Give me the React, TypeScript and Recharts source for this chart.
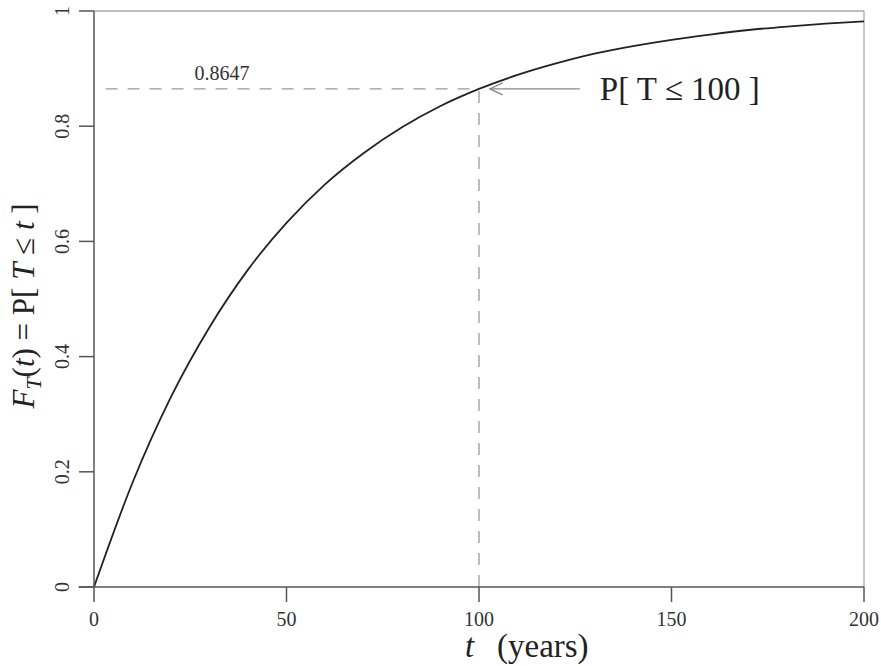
import React from 'react';
import { LineChart, Line, XAxis, YAxis, ReferenceLine, Label } from 'recharts';

const years = [0, 10, 20, 30, 40, 50, 60, 70, 80, 90, 100, 110, 120, 130, 140, 150, 160, 170, 180, 190, 200];
const probs = [0, 0.181, 0.33, 0.451, 0.551, 0.632, 0.699, 0.753, 0.798, 0.835, 0.8647, 0.889, 0.909, 0.926, 0.939, 0.95, 0.959, 0.967, 0.973, 0.978, 0.982];
const xTicks = [0, 50, 100, 150, 200];
const yTicks = [0, 0.2, 0.4, 0.6, 0.8, 1];
const markValue = 0.8647;
const markYear = 100;

const data = years.map((t, i) => ({ t, p: probs[i] }));

const FONT = '"Liberation Serif", "DejaVu Serif", serif';
const AXIS = '#555';

const YTick = (props: any) => {
  const { x, y, payload } = props;
  const lx = x - 8;
  return (
    <text x={lx} y={y} transform={`rotate(-90 ${lx} ${y})`} textAnchor="middle"
      fontFamily={FONT} fontSize={20} fill="#333">
      {payload.value === 0 || payload.value === 1 ? String(payload.value) : payload.value.toFixed(1)}
    </text>
  );
};

const XTick = (props: any) => {
  const { x, y, payload } = props;
  return (
    <text x={x} y={y + 22} textAnchor="middle" fontFamily={FONT} fontSize={20} fill="#333">
      {payload.value}
    </text>
  );
};

const Arrow = (props: any) => {
  const { x1, y1, x2, y2 } = props;
  return (
    <g>
      <line x1={x1} y1={y1} x2={x2} y2={y2} stroke="#888" strokeWidth={1.3} />
      <polyline points={`${x1 + 13},${y1 - 6} ${x1},${y1} ${x1 + 13},${y1 + 6}`} fill="none" stroke="#888" strokeWidth={1.3} />
      <text x={x2 + 20} y={y2 + 11} fontFamily={FONT} fontSize={33} fill="#222">P[ T ≤ 100 ]</text>
    </g>
  );
};

export default function App() {
  return (
    <div style={{ position: 'absolute', left: 0, top: 0, background: '#fff' }}>
      <LineChart width={881} height={666} data={data} margin={{ top: 11, right: 17, left: 34, bottom: 29 }}>
        <XAxis dataKey="t" type="number" domain={[0, 200]} ticks={xTicks} tick={<XTick />} height={50}
          axisLine={{ stroke: AXIS, strokeWidth: 1.5 }} tickLine={{ stroke: AXIS, strokeWidth: 1.5 }} tickSize={15}>
          <Label content={() => (
            <text y={657} fontFamily={FONT} fontSize={33} fill="#222">
              <tspan x={465} fontStyle="italic">t</tspan>
              <tspan x={497}>(years)</tspan>
            </text>
          )} />
        </XAxis>
        <YAxis type="number" domain={[0, 1]} ticks={yTicks} tick={<YTick />} width={60}
          axisLine={{ stroke: AXIS, strokeWidth: 1.5 }} tickLine={{ stroke: AXIS, strokeWidth: 1.5 }} tickSize={15}>
          <Label content={() => (
            <text x={34} y={306} transform="rotate(-90 34 306)" textAnchor="middle" fontFamily={FONT} fontSize={31} fill="#222">
              <tspan fontStyle="italic">F</tspan>
              <tspan fontStyle="italic" fontSize={22} dy={7}>T</tspan>
              <tspan dy={-7}>(</tspan>
              <tspan fontStyle="italic">t</tspan>
              <tspan>) = P[ </tspan>
              <tspan fontStyle="italic">T</tspan>
              <tspan> ≤ </tspan>
              <tspan fontStyle="italic">t</tspan>
              <tspan> ]</tspan>
            </text>
          )} />
        </YAxis>
        <ReferenceLine y={1} stroke="#aaa" strokeWidth={1.3} />
        <ReferenceLine x={200} stroke="#aaa" strokeWidth={1.3} />
        <ReferenceLine segment={[{ x: -4, y: 0 }, { x: 0, y: 0 }]} stroke={AXIS} strokeWidth={1.5} ifOverflow="visible" />
        <ReferenceLine segment={[{ x: 3, y: markValue }, { x: markYear, y: markValue }]} stroke="#999"
          strokeWidth={1.3} strokeDasharray="12 10">
          <Label content={() => (
            <text x={222} y={80} textAnchor="middle" fontFamily={FONT} fontSize={20} fill="#333">{markValue}</text>
          )} />
        </ReferenceLine>
        <ReferenceLine segment={[{ x: markYear, y: 0 }, { x: markYear, y: markValue }]} stroke="#999"
          strokeWidth={1.3} strokeDasharray="12 10" />
        <ReferenceLine segment={[{ x: 102.8, y: markValue }, { x: 126.2, y: markValue }]} shape={<Arrow />} />
        <Line dataKey="p" type="monotone" stroke="#222" strokeWidth={1.8} dot={false} isAnimationActive={false} />
      </LineChart>
    </div>
  );
}
